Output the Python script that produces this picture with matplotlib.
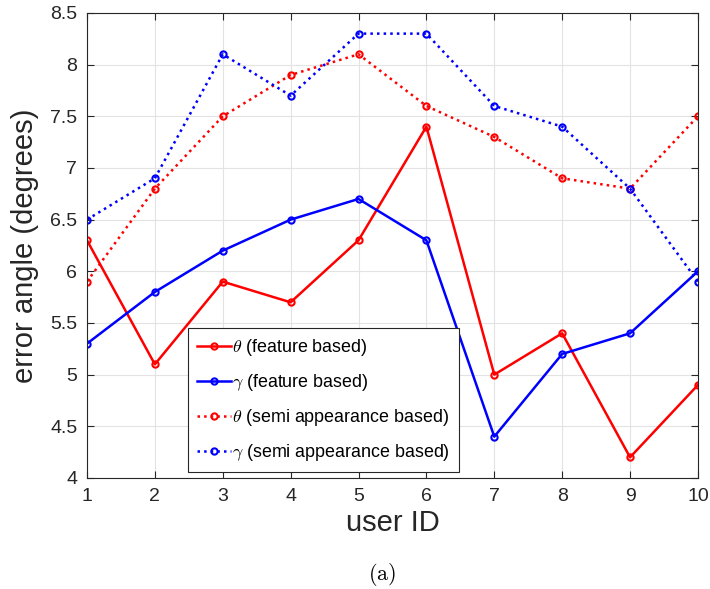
import numpy as np
import matplotlib
matplotlib.use("Agg")
import matplotlib.pyplot as plt
from matplotlib import rcParams

rcParams['font.family'] = 'Liberation Sans'
rcParams['mathtext.fontset'] = 'cm'

user_id = np.arange(1, 11)
theta_feature = [6.3, 5.1, 5.9, 5.7, 6.3, 7.4, 5.0, 5.4, 4.2, 4.9]
gamma_feature = [5.3, 5.8, 6.2, 6.5, 6.7, 6.3, 4.4, 5.2, 5.4, 6.0]
theta_semi = [5.9, 6.8, 7.5, 7.9, 8.1, 7.6, 7.3, 6.9, 6.8, 7.5]
gamma_semi = [6.5, 6.9, 8.1, 7.7, 8.3, 8.3, 7.6, 7.4, 6.8, 5.9]

fig = plt.figure(figsize=(7.1, 5.89), dpi=100)
ax = fig.add_axes([0.1225, 0.1885, 0.8605, 0.7895])

mk = dict(marker='o', markersize=4.5, markerfacecolor='none', markeredgewidth=1.5)
ax.plot(user_id, theta_feature, '-', color='r', lw=1.8, label=r'$\theta$ (feature based)', **mk)
ax.plot(user_id, gamma_feature, '-', color='b', lw=1.8, label=r'$\gamma$ (feature based)', **mk)
ax.plot(user_id, theta_semi, ':', color='r', lw=1.8, label=r'$\theta$ (semi appearance based)', **mk)
ax.plot(user_id, gamma_semi, ':', color='b', lw=1.8, label=r'$\gamma$ (semi appearance based)', **mk)

ax.set_xlim(1, 10)
ax.set_ylim(4, 8.5)
ax.set_xticks(user_id)
ax.set_yticks(np.arange(4, 8.51, 0.5))
ax.set_yticklabels(['4', '4.5', '5', '5.5', '6', '6.5', '7', '7.5', '8', '8.5'])
ax.grid(True, color='#e3e3e3', lw=0.8)
ax.set_axisbelow(True)
ax.tick_params(labelsize=14, colors='#262626', direction='in', length=5, top=True, right=True, pad=7)
for s in ax.spines.values():
    s.set_color('#262626')
    s.set_linewidth(0.8)

ax.set_xlabel('user ID', fontsize=21, color='#262626', labelpad=3)
ax.set_ylabel('error angle (degrees)', fontsize=21, color='#262626', labelpad=8)

leg = ax.legend(loc='lower left', bbox_to_anchor=(0.165, 0.013), borderaxespad=0, fontsize=12.9,
                frameon=True, fancybox=False, framealpha=1, edgecolor='#262626', handlelength=1.9,
                handletextpad=0.05, borderpad=0.5, labelspacing=0.78)
leg.get_frame().set_linewidth(0.8)

fig.text(0.538, 0.015, r'$\mathrm{(a)}$', fontsize=16, ha='center')

fig.savefig('out.png', dpi=100)
